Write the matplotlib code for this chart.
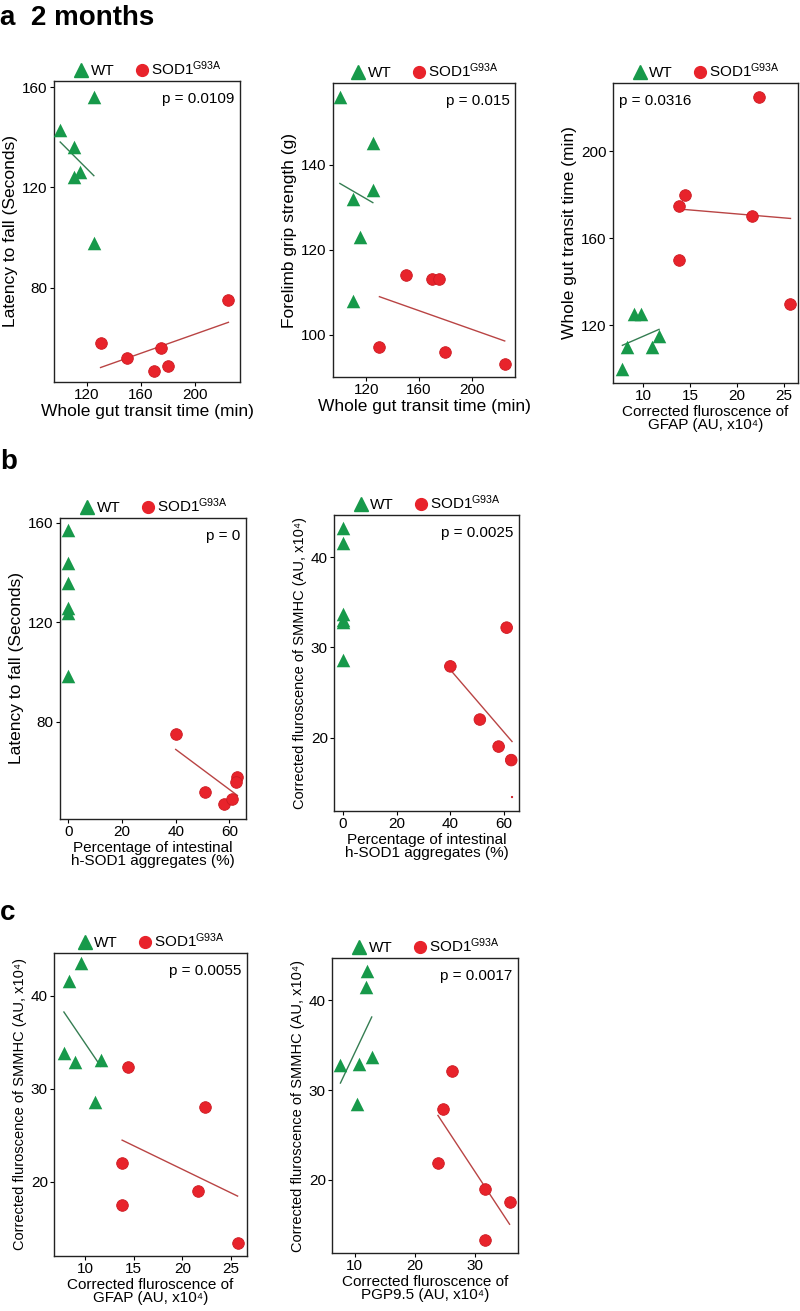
import matplotlib
matplotlib.use('Agg')
import matplotlib.pyplot as plt
from matplotlib.lines import Line2D
import numpy as np

plt.rcParams['font.family'] = ['Liberation Sans', 'DejaVu Sans']
plt.rcParams['mathtext.fontset'] = 'custom'
plt.rcParams['mathtext.rm'] = 'Liberation Sans'
plt.rcParams['mathtext.it'] = 'Liberation Sans:italic'
plt.rcParams['mathtext.bf'] = 'Liberation Sans:bold'

# ---- data ----
# a, left: latency to fall vs whole gut transit time
a1_wt_wgtt = [125, 100, 110, 110, 115, 125]
a1_wt_latency = [156, 143, 136, 124, 126, 98]
a1_sod_wgtt = [225, 130, 150, 175, 170, 180]
a1_sod_latency = [75, 58, 52, 56, 47, 49]

# a, middle: forelimb grip strength vs whole gut transit time
a2_wt_wgtt = [100, 125, 125, 110, 115, 110]
a2_wt_grip = [156, 145, 134, 132, 123, 108]
a2_sod_wgtt = [150, 170, 175, 130, 180, 225]
a2_sod_grip = [114, 113, 113, 97, 96, 93]

# a, right: whole gut transit time vs GFAP
a3_wt_gfap = [9.0, 9.75, 11.7, 8.3, 11.0, 7.8]
a3_wt_wgtt = [125, 125, 115, 110, 110, 100]
a3_sod_gfap = [22.3, 14.5, 13.8, 21.6, 13.8, 25.7]
a3_sod_wgtt = [225, 180, 175, 170, 150, 130]

# b, left: latency to fall vs h-SOD1 aggregates
b1_wt_agg = [0, 0, 0, 0, 0, 0]
b1_wt_latency = [157, 144, 136, 126, 124, 98.5]
b1_sod_agg = [40, 51, 58, 61, 63, 62.5]
b1_sod_latency = [75, 52, 47, 49, 58, 56]

# b, right: SMMHC vs h-SOD1 aggregates
b2_wt_agg = [0, 0, 0, 0, 0, 0]
b2_wt_smmhc = [43.3, 41.6, 33.7, 32.8, 33.0, 28.6]
b2_sod_agg = [61, 40, 51, 58, 62.7, 63]
b2_sod_smmhc = [32.2, 27.9, 22.0, 19.0, 17.5, 13.4]

# c, left: SMMHC vs GFAP
c1_wt_gfap = [9.6, 8.3, 7.8, 8.9, 11.6, 11.0]
c1_wt_smmhc = [43.5, 41.6, 33.8, 32.9, 33.1, 28.6]
c1_sod_gfap = [14.45, 22.3, 13.8, 21.6, 13.8, 25.7]
c1_sod_smmhc = [32.3, 28.0, 22.0, 19.0, 17.5, 13.4]

# c, right: SMMHC vs PGP9.5
c2_wt_pgp = [12.05, 11.8, 7.6, 10.7, 12.8, 10.4]
c2_wt_smmhc = [43.3, 41.5, 32.8, 32.9, 33.7, 28.4]
c2_sod_pgp = [26.2, 24.6, 23.8, 31.6, 35.7, 31.7]
c2_sod_smmhc = [32.1, 27.9, 21.9, 19.0, 17.5, 13.3]

GREEN = '#17994a'
RED = '#e8232b'
GREEN_LINE = '#357d52'
RED_LINE = '#b94444'

W, H = 800, 1311
fig = plt.figure(figsize=(W / 100, H / 100), dpi=100)


def add_axes(l, t, r, b):
    return fig.add_axes([l / W, 1 - b / H, (r - l) / W, (b - t) / H])


def fit_line(ax, x, y, color):
    k, c = np.polyfit(x, y, 1)
    xx = np.array([min(x), max(x)])
    ax.plot(xx, k * xx + c, color=color, lw=1.0, zorder=2)


def panel(box, wt_x, wt_y, sod_x, sod_y, xlim, ylim, xticks, yticks,
          xlabel, ylabel, ptext, pleft=False, wt_fit=True, sod_s=None,
          xfs=12.5, yfs=12.5):
    ax = add_axes(*box)
    if sod_s is None:
        sod_s = 70
    ax.scatter(wt_x, wt_y, marker='^', s=95, color=GREEN, linewidths=0, zorder=3)
    ax.scatter(sod_x, sod_y, marker='o', s=sod_s, color=RED,
               edgecolors='#cc1a22', linewidths=0.6, zorder=3)
    if wt_fit:
        fit_line(ax, wt_x, wt_y, GREEN_LINE)
    fit_line(ax, sod_x, sod_y, RED_LINE)

    ax.set_xlim(*xlim)
    ax.set_ylim(*ylim)
    ax.set_xticks(xticks)
    ax.set_yticks(yticks)
    ax.tick_params(direction='out', length=3, width=0.8, labelsize=11, pad=1.5)
    for sp in ax.spines.values():
        sp.set_linewidth(1.0)
        sp.set_color('#222222')
    ax.set_xlabel(xlabel, fontsize=xfs, labelpad=1, linespacing=0.95)
    ax.set_ylabel(ylabel, fontsize=yfs, labelpad=3)

    if pleft:
        ax.annotate(ptext, xy=(0, 1), xycoords='axes fraction', xytext=(4, -8),
                    textcoords='offset points', ha='left', va='top', fontsize=11)
    else:
        ax.annotate(ptext, xy=(1, 1), xycoords='axes fraction', xytext=(-4, -8),
                    textcoords='offset points', ha='right', va='top', fontsize=11)

    handles = [Line2D([], [], marker='^', ls='none', color=GREEN, markersize=9.5),
               Line2D([], [], marker='o', ls='none', color=RED, markersize=8.5)]
    ax.legend(handles, ['WT', 'SOD1$^{\\mathrm{G93A}}$'], loc='lower center',
              bbox_to_anchor=(0.5, 1.0), ncol=2, frameon=False, borderaxespad=0.1,
              handletextpad=0.0, columnspacing=1.2, handlelength=1.2, fontsize=11,
              borderpad=0.1)
    return ax


gfap_label = 'Corrected fluroscence of\nGFAP (AU, x10\u2074)'
smmhc_label = 'Corrected fluroscence of SMMHC (AU, x10\u2074)'
agg_label = 'Percentage of intestinal\nh-SOD1 aggregates (%)'

panel((54, 81, 240, 382), a1_wt_wgtt, a1_wt_latency, a1_sod_wgtt, a1_sod_latency,
      (95.4, 233.6), (42.5, 162.4), [120, 160, 200], [80, 120, 160],
      'Whole gut transit time (min)', 'Latency to fall (Seconds)', 'p = 0.0109')

panel((333, 83, 515, 377), a2_wt_wgtt, a2_wt_grip, a2_sod_wgtt, a2_sod_grip,
      (94.8, 232.8), (90, 159.2), [120, 160, 200], [100, 120, 140],
      'Whole gut transit time (min)', 'Forelimb grip strength (g)', 'p = 0.015')

panel((613, 83, 798, 383), a3_wt_gfap, a3_wt_wgtt, a3_sod_gfap, a3_sod_wgtt,
      (6.8, 26.5), (93.5, 231.3), [10, 15, 20, 25], [120, 160, 200],
      gfap_label, 'Whole gut transit time (min)', 'p = 0.0316', pleft=True, xfs=11)

panel((60, 518, 246, 819), b1_wt_agg, b1_wt_latency, b1_sod_agg, b1_sod_latency,
      (-3.1, 66.2), (41, 162), [0, 20, 40, 60], [80, 120, 160],
      agg_label, 'Latency to fall (Seconds)', 'p = 0', wt_fit=False, xfs=11)

panel((334, 515, 519, 811), b2_wt_agg, b2_wt_smmhc, b2_sod_agg, b2_sod_smmhc,
      (-3.4, 65.6), (11.85, 44.7), [0, 20, 40, 60], [20, 30, 40],
      agg_label, smmhc_label, 'p = 0.0025', wt_fit=False,
      sod_s=[70] * (len(b2_sod_agg) - 1) + [1], xfs=11, yfs=10.5)

panel((54, 953, 247, 1256), c1_wt_gfap, c1_wt_smmhc, c1_sod_gfap, c1_sod_smmhc,
      (6.78, 26.67), (12.0, 44.6), [10, 15, 20, 25], [20, 30, 40],
      gfap_label, smmhc_label, 'p = 0.0055', xfs=11, yfs=10.5)

panel((332, 958, 518, 1253), c2_wt_pgp, c2_wt_smmhc, c2_sod_pgp, c2_sod_smmhc,
      (6.2, 37.1), (11.86, 44.7), [10, 20, 30], [20, 30, 40],
      'Corrected fluroscence of\nPGP9.5 (AU, x10\u2074)', smmhc_label, 'p = 0.0017',
      xfs=11, yfs=10.5)

fig.text(0 / W, 1 - 25 / H, 'a  2 months', fontsize=20, fontweight='bold', va='baseline')
fig.text(0 / W, 1 - 469 / H, 'b', fontsize=20, fontweight='bold', va='baseline')
fig.text(0 / W, 1 - 920 / H, 'c', fontsize=20, fontweight='bold', va='baseline')

fig.savefig('out.png', dpi=100)
